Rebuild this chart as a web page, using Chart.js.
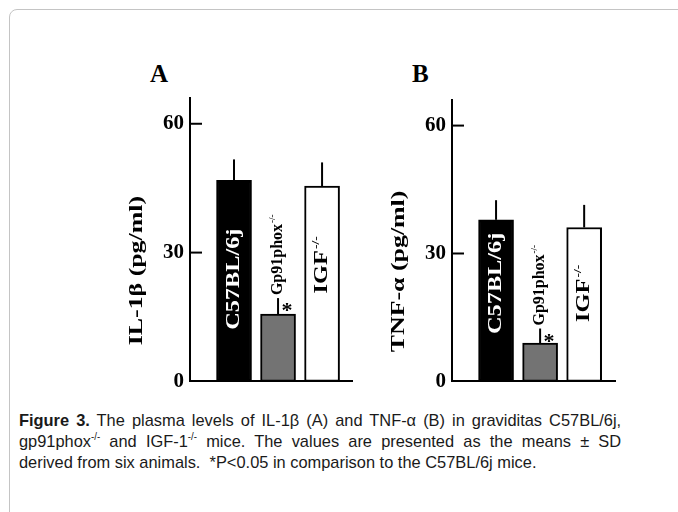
<!DOCTYPE html>
<html>
<head>
<meta charset="utf-8">
<script src="https://cdn.jsdelivr.net/npm/chart.js@4.4.0/dist/chart.umd.min.js"></script>
<style>
body { margin: 0; width: 678px; height: 512px; overflow: hidden; background: #fff; position: relative; font-family: "Liberation Sans", Arial, sans-serif; }
#frame { position: absolute; left: 9px; top: 9px; width: 720px; height: 600px; border: 1.5px solid #c4c4c4; border-radius: 8px; }
.panel { position: absolute; top: 40px; }
.letter { position: absolute; top: 61px; font: bold 25px/25px "Liberation Serif", serif; color: #000; }
#caption { position: absolute; left: 19px; top: 410px; width: 624px; font-size: 17px; line-height: 21px; color: #1a1a1a; transform: scaleX(0.965); transform-origin: 0 0; }
#caption div { white-space: nowrap; }
.jl { text-align: justify; text-align-last: justify; }
.sp { font-size: 10px; position: relative; top: -7px; line-height: 0; }
</style>
</head>
<body>
<div id="frame"></div>
<div class="letter" style="left:150px">A</div>
<div class="letter" style="left:412px">B</div>
<canvas id="chartA" class="panel" style="left:120px" width="250" height="360"></canvas>
<canvas id="chartB" class="panel" style="left:382px" width="250" height="360"></canvas>
<div id="caption">
  <div class="jl"><b>Figure 3.</b> The plasma levels of IL-1β (A) and TNF-α (B) in graviditas C57BL/6j,</div>
  <div class="jl">gp91phox<span class="sp">-/-</span> and IGF-1<span class="sp">-/-</span> mice. The values are presented as the means ± SD</div>
  <div>derived from six animals.&nbsp; *P&lt;0.05 in comparison to the C57BL/6j mice.</div>
</div>
<script>
// groups (label text, superscript)
const categories = ['C57BL/6j', 'Gp91phox', 'IGF'];
const categorySup = ['', '-/-', '-/-'];
const xPos = [1, 2, 3];
const significant = [false, true, false];

// panel A: IL-1b (pg/ml)
const il1bMean = [46.8, 15.7, 45.5];
const il1bSD = [4.9, 3.7, 5.5];
// panel B: TNF-a (pg/ml)
const tnfMean = [37.9, 9.0, 36.1];
const tnfSD = [4.6, 3.4, 5.3];

const yTicks = [0, 30, 60];
const yMax = 66;

const barColors = ['#000000', '#737373', '#ffffff'];
const serif = '"Liberation Serif", "Times New Roman", serif';

// vertical text, reading bottom to top, stretched along its length
function drawUpText(ctx, x, y, text, sup, size, stretch, color, align) {
    ctx.save();
    ctx.translate(x, y);
    ctx.rotate(-Math.PI / 2);
    ctx.scale(stretch, 1);
    ctx.fillStyle = color;
    ctx.textBaseline = 'middle';
    ctx.textAlign = 'left';
    ctx.font = 'bold ' + size + 'px ' + serif;
    const w1 = ctx.measureText(text).width;
    ctx.font = 'bold ' + Math.round(size * 0.55) + 'px ' + serif;
    const w2 = sup ? ctx.measureText(sup).width : 0;
    const start = align === 'center' ? -(w1 + w2) / 2 : 0;
    ctx.font = 'bold ' + size + 'px ' + serif;
    ctx.fillText(text, start, 0);
    if (sup) {
        ctx.font = 'bold ' + Math.round(size * 0.55) + 'px ' + serif;
        ctx.fillText(sup, start + w1 + 1, -size * 0.32);
    }
    ctx.restore();
}

const marksPlugin = {
    id: 'marks',
    afterDatasetsDraw(chart, args, opts) {
        const ctx = chart.ctx;
        const ys = chart.scales.y;
        const area = chart.chartArea;
        const bars = chart.getDatasetMeta(0).data;
        ctx.save();
        ctx.strokeStyle = '#000';
        ctx.lineWidth = 2;
        ctx.lineCap = 'butt';

        // tick marks point inward
        yTicks.forEach(v => {
            if (v === 0) return;
            const py = ys.getPixelForValue(v);
            ctx.beginPath();
            ctx.moveTo(area.left, py);
            ctx.lineTo(area.left + 12, py);
            ctx.stroke();
        });

        bars.forEach((bar, i) => {
            const errTop = ys.getPixelForValue(opts.mean[i] + opts.sd[i]);
            ctx.beginPath();
            ctx.moveTo(bar.x, bar.y);
            ctx.lineTo(bar.x, errTop);
            ctx.stroke();

            const spec = opts.labels[i];
            if (spec.at === null) {
                drawUpText(ctx, bar.x, errTop - 3, categories[i], categorySup[i], spec.size, spec.stretch, spec.color, 'start');
            } else {
                drawUpText(ctx, bar.x, ys.getPixelForValue(spec.at), categories[i], categorySup[i], spec.size, spec.stretch, spec.color, 'center');
            }

            if (significant[i]) {
                ctx.fillStyle = '#000';
                ctx.font = 'bold 22px ' + serif;
                ctx.textAlign = 'center';
                ctx.textBaseline = 'alphabetic';
                ctx.fillText('*', bar.x + 9, errTop + 19);
            }
        });

        // axis title
        drawUpText(ctx, area.left - 53, ys.getPixelForValue(opts.titleAt), opts.title, '', 19, 1.36, '#000', 'center');
        ctx.restore();
    }
};

function makeChart(id, mean, sd, title, labelAt, xMax, pad) {
    const labelSpecs = [
        { at: labelAt[0], size: 18, stretch: 1.35, color: '#fff' },
        { at: labelAt[1], size: 16, stretch: 1.0, color: '#000' },
        { at: labelAt[2], size: 18, stretch: 1.35, color: '#000' }
    ];
    return new Chart(document.getElementById(id), {
        type: 'bar',
        data: {
            datasets: [{
                data: xPos.map((x, i) => ({ x: x, y: mean[i] })),
                backgroundColor: barColors,
                borderColor: '#000',
                borderWidth: 2,
                borderSkipped: false,
                barThickness: 35
            }]
        },
        options: {
            responsive: false,
            animation: false,
            devicePixelRatio: 1,
            layout: { padding: pad },
            plugins: {
                legend: { display: false },
                tooltip: { enabled: false },
                marks: { mean: mean, sd: sd, title: title, titleAt: 25.8, labels: labelSpecs }
            },
            scales: {
                x: {
                    type: 'linear',
                    min: 0,
                    max: xMax,
                    offset: false,
                    bounds: 'data',
                    grid: { display: false, drawTicks: false, offset: false },
                    border: { display: true, color: '#000', width: 2 },
                    ticks: { display: false },
                    afterFit: s => { s.height = 0; }
                },
                y: {
                    min: 0,
                    max: yMax,
                    grid: { display: false, drawTicks: false },
                    border: { display: true, color: '#000', width: 2 },
                    ticks: {
                        color: '#000',
                        padding: 6,
                        font: { family: serif, size: 21, weight: 'bold' }
                    },
                    afterBuildTicks: s => { s.ticks = yTicks.map(v => ({ value: v })); },
                    afterFit: s => { s.width = 70; }
                }
            }
        },
        plugins: [marksPlugin]
    });
}

makeChart('chartA', il1bMean, il1bSD, 'IL-1β (pg/ml)', [23.8, null, 27.0], 3.68, { left: 0, right: 18, top: 58, bottom: 13 });
makeChart('chartB', tnfMean, tnfSD, 'TNF-α (pg/ml)', [23.0, null, 20.5], 3.7, { left: 0, right: 17, top: 60, bottom: 10 });
</script>
</body>
</html>
